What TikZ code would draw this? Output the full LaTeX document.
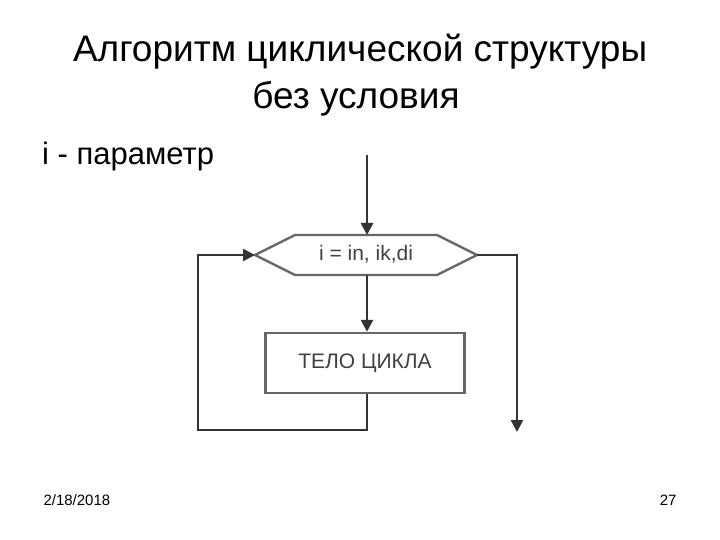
\documentclass[tikz,border=0pt]{standalone}
\usepackage{fontspec}
\setmainfont{Liberation Sans}
\usetikzlibrary{arrows.meta}
\begin{document}
\begin{tikzpicture}[x=1pt,y=-1pt,
  line/.style={draw=black!80,line width=2.6pt},
  arr/.style={line,-{Triangle[length=12pt,width=12pt]}},
  blk/.style={draw=black!60,line width=2.4pt,fill=white}]
\useasboundingbox[fill=white] (0,0) rectangle (720,540);
\node[anchor=base,font=\fontsize{37}{40}\selectfont] (t1) at (360,62) {Алгоритм циклической структуры};
\node[anchor=base,font=\fontsize{37}{40}\selectfont] (t2) at (356,109) {без условия};
\node[anchor=base west,inner sep=0pt,font=\fontsize{31}{34}\selectfont] (p) at (42,165) {i - параметр};
\fill[white] (218,165) rectangle (540,445);
\coordinate (top) at (367,155);
\draw[blk] (255,255) coordinate (hl) -- (295,235) -- (437,235) -- (477,255) coordinate (hr) -- (437,275) -- (295,275) -- cycle;
\node[font=\fontsize{21}{24}\selectfont,text=black!75] (ht) at (366,254) {i = in, ik,di};
\node[blk,minimum width=199pt,minimum height=60pt,font=\fontsize{21}{24}\selectfont,text=black!75] (b) at (365,363) {ТЕЛО ЦИКЛА};
\coordinate (hb) at (367,275);
\coordinate (ht2) at (367,235);
\draw[arr] (top) -- (ht2);
\draw[arr] (hb) -- (b.north -| hb);
\coordinate (l1) at (367,430);
\coordinate (l2) at (198,430);
\coordinate (l3) at (198,255);
\draw[arr] (b.south -| hb) -- (l1) -- (l2) -- (l3) -- (hl);
\coordinate (r1) at (517,255);
\coordinate (r2) at (517,432);
\draw[arr] (hr) -- (r1) -- (r2);
\node[anchor=west,font=\fontsize{15}{17}\selectfont] (d) at (40,500) {2/18/2018};
\node[anchor=east,font=\fontsize{15}{17}\selectfont] (n) at (680,500) {27};
\end{tikzpicture}
\end{document}
